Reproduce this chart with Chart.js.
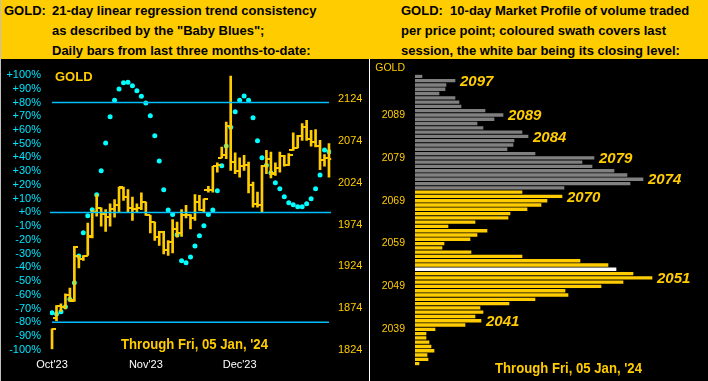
<!DOCTYPE html>
<html><head><meta charset="utf-8">
<script src="https://cdn.jsdelivr.net/npm/chart.js@4"></script>
<style>
html,body{margin:0;padding:0;background:#000;}
#wrap{position:relative;width:708px;height:381px;background:#000;overflow:hidden;font-family:"Liberation Sans",Arial,sans-serif;}
.hdr{position:absolute;left:0;top:0;width:708px;height:59px;background:#FFCC00;}
.ht{position:absolute;top:0.5px;font:bold 13px "Liberation Sans",Arial,sans-serif;color:#000;white-space:pre;line-height:20px;}
.gold{position:absolute;color:#FFCC00;white-space:pre;}
canvas{position:absolute;}
</style></head>
<body><div id="wrap">
<div class="hdr"></div>
<div class="ht" style="left:4px">GOLD:</div>
<div class="ht" style="left:52px">21-day linear regression trend consistency<br>as described by the "Baby Blues";<br>Daily bars from last three months-to-date:</div>
<div class="ht" style="left:401px">GOLD:  10-day Market Profile of volume traded<br>per price point; coloured swath covers last<br>session, the white bar being its closing level:</div>
<div style="position:absolute;left:0;top:0;width:1px;height:381px;background:#C0C0C0"></div>
<div style="position:absolute;left:369px;top:59px;width:1px;height:322px;background:#FFFFFF"></div>
<canvas id="c1" width="369" height="322" style="left:0;top:59px"></canvas>
<canvas id="c2" width="338" height="322" style="left:370px;top:59px"></canvas>
<div class="gold" style="left:55px;top:68.6px;font:bold 13px 'Liberation Sans',Arial,sans-serif;line-height:15px">GOLD</div>
<div class="gold" style="left:121px;top:334.7px;font:bold 15px 'Liberation Sans',Arial,sans-serif;line-height:17px;transform:scaleX(0.876);transform-origin:0 0">Through Fri, 05 Jan, '24</div>
<div class="gold" style="left:495px;top:358.7px;font:bold 15px 'Liberation Sans',Arial,sans-serif;line-height:17px;transform:scaleX(0.876);transform-origin:0 0">Through Fri, 05 Jan, '24</div>
<div class="gold" style="left:360px;width:45px;text-align:right;top:61.1px;font:10.5px 'Liberation Sans',Arial,sans-serif;line-height:12px">GOLD</div>
</div>
<script>
const GOLD = '#FFCC00';
// ---- left chart data ----
const months = ["Oct'23", "Nov'23", "Dec'23"];
const monthStart = [0, 21, 42];
const priceTicks = [1824, 1874, 1924, 1974, 2024, 2074, 2124];
const blueLevels = [80, 0, -80];
const barOpen  = [null,1862,1876,1875,1890,1884,1937,1933,1937,1960,1989,1994,1987,1983,1993,1997,2018,2007,1994,1993,1994,2001,1985,1977,1959,1965,1944,1953,1969,1964,1986,1986,1982,2001,1992,2015,2016,2044,2054,2057,2092,2049,2038,2044,2046,2022,1999,1997,2044,2053,2036,2042,2056,2045,2063,2066,2080,2091,2077,2073,2068,2051,2054];
const barHigh  = [1849,1877,1879,1891,1898,1948,1937,1937,1976,1991,2010,1994,1992,1999,2004,2019,2019,2016,2007,1999,2012,2001,1985,1977,1966,1966,1955,1980,1977,1992,1997,1986,2010,2009,2005,2020,2044,2048,2067,2097,2152,2060,2054,2057,2049,2025,2013,2045,2063,2061,2048,2061,2057,2059,2084,2081,2095,2099,2087,2088,2075,2058,2071];
const barLow   = [1825,1859,1870,1873,1882,1882,1922,1931,1937,1958,1984,1972,1966,1972,1983,1989,2003,1989,1979,1989,1992,1985,1964,1955,1949,1939,1937,1940,1959,1960,1982,1969,1979,1991,1989,2013,2013,2037,2054,2053,2039,2035,2031,2039,2012,1995,1995,1989,2035,2030,2033,2037,2044,2045,2063,2066,2075,2075,2068,2067,2040,2044,2031];
const barClose = [1849,1876,1875,1890,1883,1947,1933,1936,1959,1989,1994,1987,1983,1993,1997,2019,2007,1994,1993,1994,2001,1986,1977,1959,1965,1944,1953,1969,1964,1986,1986,1982,2001,1992,2005,2016,2044,2046,2057,2092,2049,2038,2044,2046,2022,1999,1997,2044,2053,2035,2042,2056,2045,2058,2066,2080,2091,2077,2073,2068,2051,2054,2053];
const babyBlues = [-73.0,-74.0,-72.3,-68.6,-63.3,-51.2,-31.8,-14.8,-2.4,1.9,12.8,30.3,50.6,69.6,81.7,89.9,94.3,94.8,92.1,88.5,84.6,79.7,70.3,55.7,37.5,16.5,1.7,-1.5,-16.3,-35.2,-36.6,-32.5,-24.5,-17.0,-9.7,-1.5,1.7,15.7,33.9,48.4,62.0,73.2,81.7,84.8,81.7,68.8,52.1,39.7,34.4,28.8,21.5,17.2,11.3,7.0,5.5,4.1,4.1,6.3,9.9,17.2,27.3,45.5,44.1];
// ---- right chart data ----
const profilePrices = [2098,2097,2096,2095,2094,2093,2092,2091,2090,2089,2088,2087,2086,2085,2084,2083,2082,2081,2080,2079,2078,2077,2076,2075,2074,2073,2072,2071,2070,2069,2068,2067,2066,2065,2064,2063,2062,2061,2060,2059,2058,2057,2056,2055,2054,2053,2052,2051,2050,2049,2048,2047,2046,2045,2044,2043,2042,2041,2040,2039,2038,2037,2036,2035,2034,2033,2032,2031];
const profileVolume = [7,40,31,30,24,40,44,46,70,88,79,62,68,107,113,99,98,92,120,179,167,177,199,212,228,215,149,107,147,132,126,112,95,93,60,33,72,62,55,29,27,56,107,165,193,201,218,237,208,186,150,153,120,94,65,68,60,66,50,20,11,11,14,16,19,12,13,4];
const profileTicks = [2089, 2079, 2069, 2059, 2049, 2039];
const profileMarks = [2097, 2089, 2084, 2079, 2074, 2070, 2051, 2041];
const sessionLow = 2031, sessionHigh = 2071, sessionClose = 2053;

const FONT = 'Liberation Sans';
function tickCanvas(side) {
  const c = document.createElement('canvas');
  c.width = 8; c.height = 2;
  const g = c.getContext('2d');
  g.fillStyle = GOLD;
  if (side === 'r') g.fillRect(4, 0, 4, 2); else g.fillRect(0, 0, 4, 2);
  return c;
}
const n = barClose.length;
const xMin = -0.5, xMax = n - 0.5;

const lineSets = blueLevels.map(l => ({
  type: 'line', yAxisID: 'yc', borderColor: '#00BFFF', borderWidth: 1.5, pointRadius: 0,
  data: l === 0 ? [{x: xMin + 0.05, y: l}, {x: xMax - 0.05, y: l}] : [{x: 0, y: l}, {x: n - 1, y: l}]
}));

new Chart(document.getElementById('c1'), {
  type: 'bar',
  data: {
    datasets: [
      ...lineSets,
      { type: 'bar', yAxisID: 'yp', backgroundColor: GOLD, barThickness: 2, grouped: false,
        data: barHigh.map((h, i) => ({x: i, y: [barLow[i], h]})) },
      { type: 'line', yAxisID: 'yp', showLine: false, pointStyle: tickCanvas('l'), pointRadius: 3,
        data: barOpen.map((o, i) => ({x: i, y: o})) },
      { type: 'line', yAxisID: 'yp', showLine: false, pointStyle: tickCanvas('r'), pointRadius: 3,
        data: barClose.map((c, i) => ({x: i, y: c})) },
      { type: 'line', yAxisID: 'yc', showLine: false, pointStyle: 'circle', pointRadius: 2.5,
        backgroundColor: '#00FFFF', borderWidth: 0,
        data: babyBlues.map((v, i) => ({x: i, y: v})) }
    ]
  },
  options: {
    responsive: false, animation: false,
    layout: {padding: {top: 16, left: 0, right: 0, bottom: 0}},
    plugins: {legend: {display: false}, tooltip: {enabled: false}},
    scales: {
      x: { type: 'linear', min: xMin, max: xMax, offset: false,
        grid: {display: false, drawTicks: false}, border: {display: false},
        afterBuildTicks: s => { s.ticks = monthStart.map(v => ({value: v})); },
        ticks: {autoSkip: false, maxRotation: 0, color: '#FFFFFF', font: {family: FONT, size: 11}, padding: 8.6,
          callback: v => months[monthStart.indexOf(v)]},
        afterFit: s => { s.height = 31.2; } },
      yc: { type: 'linear', position: 'left', min: -100, max: 100,
        grid: {display: false, drawTicks: false}, border: {display: false},
        ticks: {stepSize: 10, autoSkip: false, color: '#00E5FF', font: {family: FONT, size: 11}, padding: 8.8,
          callback: v => (v >= 0 ? '+' + Math.abs(v) : v) + '%'},
        afterFit: s => { s.width = 49.8; } },
      yp: { type: 'linear', position: 'right', min: 1824, max: 2153.3, beginAtZero: false,
        grid: {display: false, drawTicks: false}, border: {display: false},
        afterBuildTicks: s => { s.ticks = priceTicks.map(v => ({value: v})); },
        ticks: {autoSkip: false, color: GOLD, font: {family: FONT, size: 11}, padding: 6.8, callback: v => String(v)},
        afterFit: s => { s.width = 37.8; } }
    }
  }
});

const markPlugin = {
  id: 'marks',
  afterDatasetsDraw(chart) {
    const {ctx} = chart; const xs = chart.scales.x, ys = chart.scales.y;
    ctx.save();
    ctx.font = 'italic bold 15px "Liberation Sans"';
    ctx.fillStyle = GOLD; ctx.textBaseline = 'middle'; ctx.textAlign = 'left';
    profileMarks.forEach(p => {
      const i = profilePrices.indexOf(p);
      ctx.fillText(String(p), xs.getPixelForValue(profileVolume[i]) + 5, ys.getPixelForValue(i) + 1);
    });
    ctx.restore();
  }
};

new Chart(document.getElementById('c2'), {
  type: 'bar',
  data: {
    labels: profilePrices.map(String),
    datasets: [{
      data: profileVolume, barThickness: 2.7, borderWidth: 0,
      backgroundColor: profilePrices.map(p => p === sessionClose ? '#FFFFFF' : (p >= sessionLow && p <= sessionHigh ? GOLD : '#808080'))
    }]
  },
  options: {
    indexAxis: 'y', responsive: false, animation: false,
    layout: {padding: {top: 10.05, bottom: 5.45, left: 0, right: 3}},
    plugins: {legend: {display: false}, tooltip: {enabled: false}},
    scales: {
      x: {display: false, min: 0, max: 290},
      y: { grid: {display: false, drawTicks: false}, border: {display: false},
        ticks: {autoSkip: false, color: GOLD, font: {family: FONT, size: 10.5, lineHeight: 1}, padding: 10,
          callback: (v, i) => profileTicks.includes(profilePrices[i]) ? String(profilePrices[i]) : ''},
        afterFit: s => { s.width = 45; } }
    }
  },
  plugins: [markPlugin]
});
</script>
</body></html>
